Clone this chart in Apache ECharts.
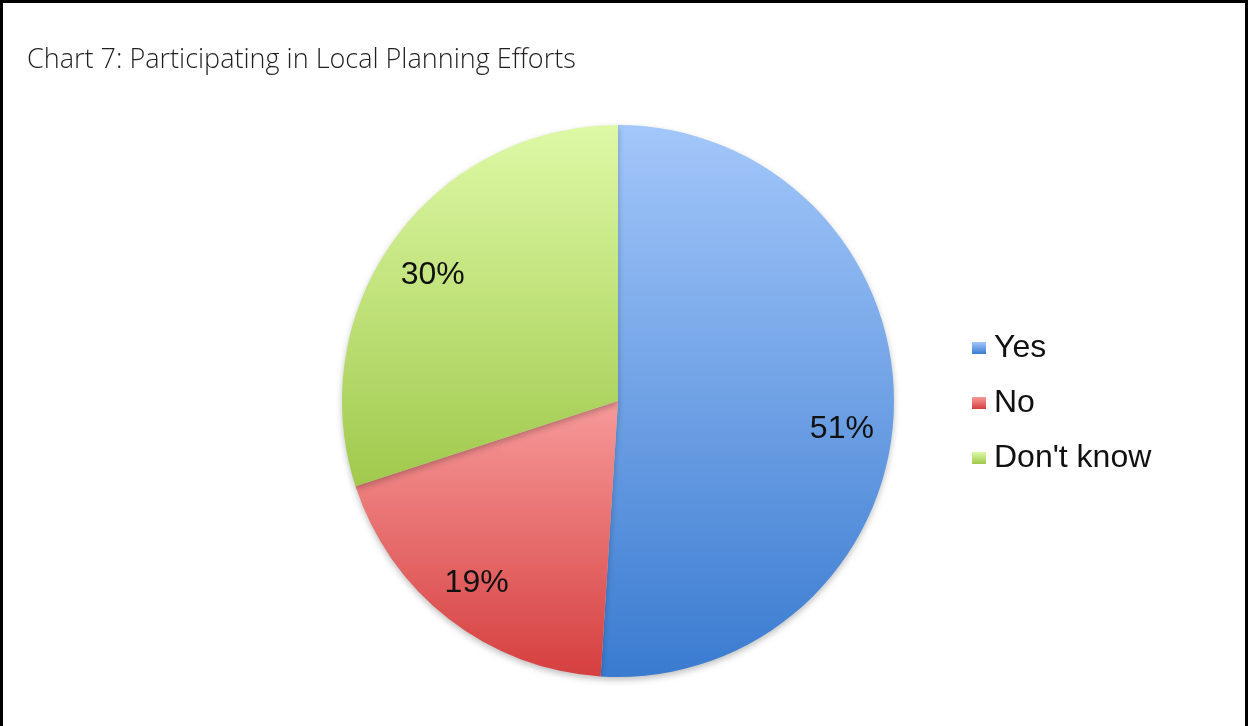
<!DOCTYPE html>
<html>
<head>
<meta charset="utf-8">
<script src="https://cdn.jsdelivr.net/npm/echarts@6/dist/echarts.min.js"></script>
<style>
  html, body { margin: 0; padding: 0; background: #fff; }
  #c_chart { width: 1248px; height: 726px; }
</style>
</head>
<body>
<div id="c_chart"></div>
<script>
// data
const categories = ['Yes', 'No', "Don't know"]
const values = [51, 19, 30]
// top / bottom shade of each slice
const topColors = ['#a3c7fa', '#f79a9a', '#def9a6']
const bottomColors = ['#3a7bd0', '#d63f3f', '#a0c94c']
// small nudges so the labels sit where the original ones do
const labelShift = [[-5, 21], [-1, 1], [0, 9]]

const chart = echarts.init(document.getElementById('c_chart'))

const pieData = categories.map((name, i) => ({
  name: name,
  value: values[i],
  itemStyle: {
    color: new echarts.graphic.LinearGradient(0, 0, 0, 1, [
      { offset: 0, color: topColors[i] },
      { offset: 1, color: bottomColors[i] }
    ])
  }
}))

const option = {
  backgroundColor: '#fff',
  animation: false,
  title: {
    text: 'Chart 7: Participating in Local Planning Efforts',
    left: 22,
    top: 42,
    textStyle: {
      fontFamily: 'Open Sans',
      fontWeight: 300,
      fontSize: 27,
      color: '#231f20'
    }
  },
  legend: {
    orient: 'vertical',
    left: 967,
    top: 327,
    itemWidth: 14,
    itemHeight: 12,
    itemGap: 23,
    icon: 'rect',
    data: categories,
    textStyle: {
      fontFamily: 'Liberation Sans',
      fontSize: 32,
      lineHeight: 32,
      color: '#111',
      padding: [0, 0, 0, 3]
    }
  },
  graphic: [{
    type: 'polyline',
    shape: { points: [[1.5, 726], [1.5, 1.5], [1246.5, 1.5], [1246.5, 726]] },
    style: { stroke: '#000', lineWidth: 3, fill: null },
    silent: true
  }],
  series: [{
    name: 'pie',
    type: 'pie',
    center: [618, 401],
    radius: 276,
    startAngle: 90,
    clockwise: true,
    data: pieData,
    label: { show: false },
    labelLine: { show: false },
    itemStyle: {
      shadowColor: 'rgba(0,0,0,0.25)',
      shadowBlur: 6,
      shadowOffsetY: 3
    },
    silent: true
  }, {
    // label carrier: same data, labels at about 0.82 of the radius
    name: 'labels',
    type: 'pie',
    center: [618, 401],
    radius: 452,
    startAngle: 90,
    clockwise: true,
    data: categories.map((name, i) => ({ name: name, value: values[i] })),
    itemStyle: { color: 'rgba(0,0,0,0)' },
    label: {
      show: true,
      position: 'inside',
      formatter: '{c}%',
      fontFamily: 'Liberation Sans',
      fontSize: 32,
      color: '#111'
    },
    labelLine: { show: false },
    labelLayout: function (params) {
      const s = labelShift[params.dataIndex]
      return { dx: s[0], dy: s[1] }
    },
    emphasis: { disabled: true },
    silent: true
  }]
}

chart.setOption(option, true)
window.addEventListener('resize', function () {
  chart.resize()
})
</script>
</body>
</html>
